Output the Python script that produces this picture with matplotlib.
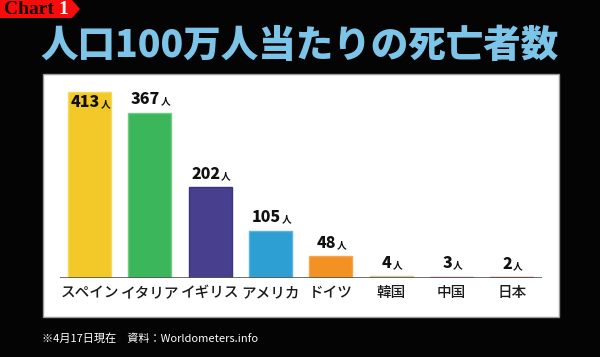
## 人口100万人当たりの死亡者数 bar chart

import matplotlib.pyplot as plt
from matplotlib.patches import Rectangle, Polygon

plt.rcParams['font.family'] = ['Noto Sans CJK JP', 'DejaVu Sans']

countries = ['スペイン', 'イタリア', 'イギリス', 'アメリカ', 'ドイツ', '韓国', '中国', '日本']
deaths = [413, 367, 202, 105, 48, 4, 3, 2]
colors = ['#f2c928', '#3bb65a', '#48408f', '#2e9fd3', '#f39123', '#d6cb9b', '#b862b2', '#e0452b']
edges = ['#f7d95a', '#6fcb85', '#3a3380', '#59b5e0', '#f6a64e', '#d6cb9b', '#b862b2', '#e0452b']

title = '人口100万人当たりの死亡者数'
note = '※4月17日現在　資料：Worldometers.info'

fig = plt.figure(figsize=(6, 3.57), dpi=100, facecolor='#050405')

# white panel
fig.patches.append(Rectangle((43/600, 40/357), 516/600, 243/357, transform=fig.transFigure,
                             facecolor='white', edgecolor='#9a9a9a', linewidth=1.0, zorder=0))

# red badge
badge = [(0, 1), (72/600, 1), (80/600, 1 - 9/357), (72/600, 1 - 18/357), (0, 1 - 18/357)]
fig.patches.append(Polygon(badge, closed=True, transform=fig.transFigure,
                           facecolor='#f50d0d', edgecolor='none'))
fig.text(4/600, 1 - 10/357, 'Chart', family='Liberation Serif', weight='bold',
         fontsize=14, color='#1e0202', va='center', ha='left')
fig.text(58/600, 1 - 10/357, '1', family='Liberation Serif', weight='bold',
         fontsize=14, color='white', va='center', ha='left')

fig.text(0.5, 1 - 46/357, title, color='#7cc5e8', fontsize=27, weight='heavy',
         ha='center', va='center')
fig.text(42/600, 18/357, note, color='white', fontsize=8, ha='left', va='center')

ax = fig.add_axes([60/600, 79/357, 482/600, 198/357])
ax.set_zorder(2)
ax.set_facecolor('none')
x = list(range(len(countries)))
ax.bar(x, deaths, width=0.71, color=colors, edgecolor=edges, linewidth=1.0, zorder=2)
ax.set_xlim(-0.49, 7.5)
ax.set_ylim(0, 440)
ax.axhline(0, color='#555555', linewidth=1.2, zorder=3)

for side in ['top', 'right', 'left', 'bottom']:
    ax.spines[side].set_visible(False)
ax.set_yticks([])
ax.set_xticks(x)
ax.set_xticklabels(countries, fontsize=10.5, weight='medium', color='#1a1a1a')
ax.tick_params(axis='x', length=0, pad=6)

for i, v in enumerate(deaths):
    if i == 0:
        y, off = v, -13
    else:
        y, off = v, 4
    t = ax.annotate(str(v), xy=(i - 0.07, y), xytext=(0, off), textcoords='offset points',
                    ha='center', va='bottom', fontsize=11.5, weight='heavy', color='#111111')
    ax.annotate('人', xy=(1, 0), xycoords=t, xytext=(0.5, 0.5), textcoords='offset points',
                ha='left', va='bottom', fontsize=7, weight='bold', color='#111111')

plt.savefig('out.png', dpi=100, facecolor=fig.get_facecolor())
